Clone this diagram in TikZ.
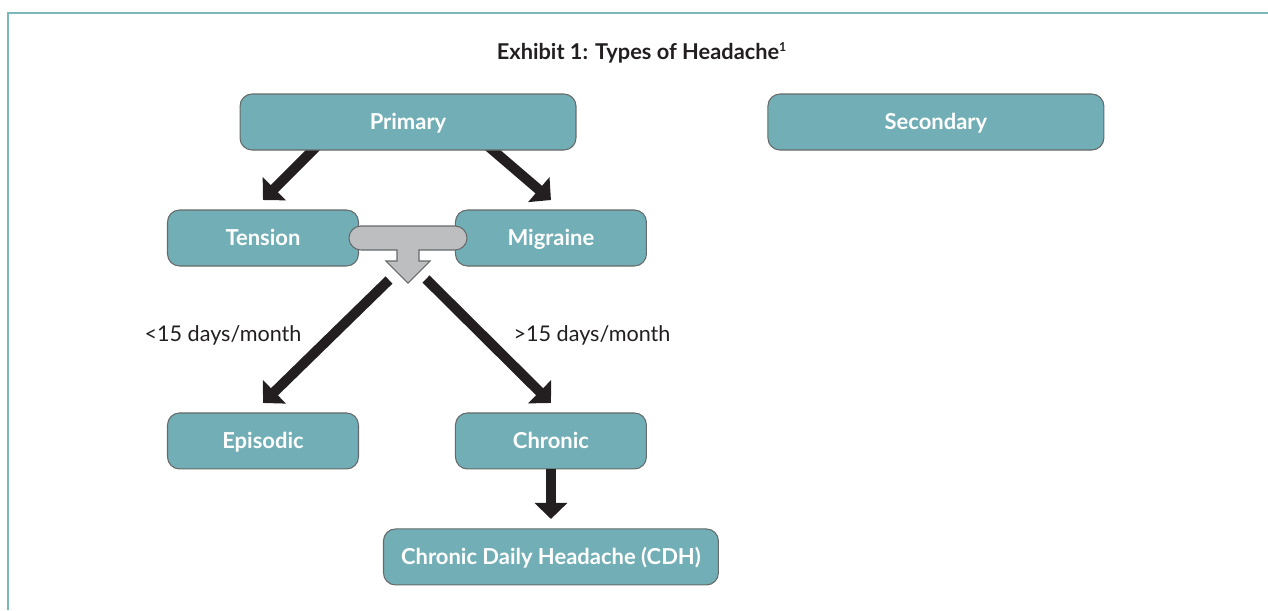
\documentclass[tikz,border=0pt]{standalone}
\usepackage{fontspec}
\setmainfont{Lato}
\usepackage{tikz}
\usetikzlibrary{positioning,arrows.meta,calc,backgrounds}
\definecolor{boxteal}{HTML}{72AEB5}
\definecolor{boxedge}{HTML}{666A6B}
\definecolor{inkdark}{HTML}{231F20}
\definecolor{bargray}{HTML}{BCBEC0}
\definecolor{framecol}{HTML}{7AB8BD}
\newcommand{\hshim}{3.84cm}
\newcommand{\vshim}{2.94cm}
\newcommand{\bshim}{1.94cm}
\newcommand{\btext}[1]{\fontsize{12.5}{14}\selectfont\bfseries #1}

\begin{document}
\begin{tikzpicture}[x=0.02cm,y=-0.02cm,
    box/.style={draw=boxedge,line width=0.6pt,fill=boxteal,text=white,
                rounded corners=0.24cm,minimum height=1.12cm,outer sep=0pt,
                text height=9pt,text depth=0pt},
    wide/.style={box,minimum width=6.72cm},
    narrow/.style={box,minimum width=3.82cm},
    fat/.style={draw=inkdark,line width=0.2cm,
                -{Triangle[width=0.64cm,length=0.32cm]}},
    tee/.style={draw=boxedge,line width=0.6pt,fill=bargray},
    lbl/.style={text=inkdark,font=\fontsize{12.3}{14}\selectfont}]
  \useasboundingbox (0,0) rectangle (1268,610);
  \draw[framecol,line width=0.04cm] (8,610) -- (8,13) -- (1268,13);

  \node (tt) at (642,53) [text=inkdark]
        {\fontsize{12.4}{14}\selectfont\bfseries Exhibit 1: Types of Headache\textsuperscript{\scriptsize 1}};

  \node (00) at (408,122) [wide]        {\btext{Primary}};
  \node (20) [wide,right=\hshim of 00]  {\btext{Secondary}};

  \node (01) at (263,238) [narrow]      {\btext{Tension}};
  \node (11) [narrow,right=\bshim of 01] {\btext{Migraine}};

  \node (02) [narrow,below=\vshim of 01] {\btext{Episodic}};
  \node (12) [narrow,below=\vshim of 11] {\btext{Chronic}};

  \node (13) [box,minimum width=6.7cm
             ,below=1.2cm of 12]       {\btext{Chronic Daily Headache (CDH)}};

  \node (lo) at (223,335) [lbl] {<15 days/month};
  \node (hi) at (592,335) [lbl] {>15 days/month};

  %% arrows out of Primary sit behind the box
  \begin{scope}[on background layer]
    \draw[fat] ($(01.north)+(60,-70)$) -- ([yshift=0.2cm]01.north);
    \draw[fat] ($(11.north)+(-70,-70)$) -- ([yshift=0.2cm]11.north);
  \end{scope}

  %% grey join between Tension and Migraine
  \coordinate (jn) at (408,238);
  \begin{scope}[shift={(jn)}]
    \draw[tee] (-47,-12) -- (47,-12) arc[start angle=90,end angle=-90,radius=0.24cm]
      -- (11,12) -- (11,23) -- (22,23) -- (0,45) -- (-22,23) -- (-11,23) -- (-11,12)
      -- (-47,12) arc[start angle=270,end angle=90,radius=0.24cm] -- cycle;
  \end{scope}

  \draw[fat] ($(jn)+(-19,42)$) -- ([yshift=0.2cm]02.north);
  \draw[fat] ($(jn)+(18,41)$) -- ([yshift=0.2cm]12.north);
  \draw[fat] (12.south) -- ([yshift=0.2cm]13.north);

\end{tikzpicture}
\end{document}
